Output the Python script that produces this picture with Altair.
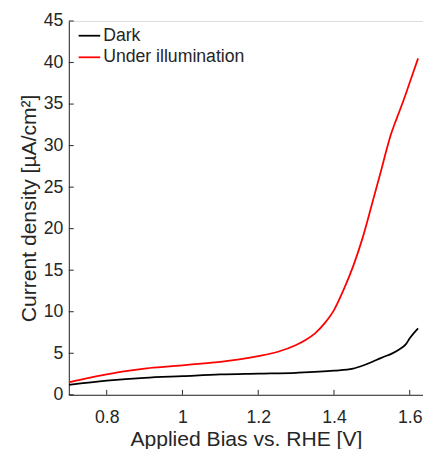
import altair as alt
import pandas as pd

# Dark current
dark_v = [0.70, 0.80, 0.90, 1.00, 1.10, 1.20, 1.30, 1.40, 1.45, 1.475, 1.50, 1.52, 1.53, 1.55, 1.57, 1.59, 1.60, 1.622]
dark_j = [1.2, 1.7, 2.05, 2.25, 2.45, 2.55, 2.65, 2.9, 3.15, 3.5, 3.95, 4.35, 4.55, 4.9, 5.4, 6.1, 6.8, 8.0]

# Under illumination
light_v = [0.70, 0.75, 0.80, 0.85, 0.90, 0.95, 1.00, 1.05, 1.10, 1.15, 1.20, 1.25, 1.30, 1.325, 1.35, 1.375,
           1.40, 1.425, 1.45, 1.475, 1.50, 1.525, 1.54, 1.55, 1.56, 1.57, 1.58, 1.60, 1.622]
light_j = [1.5, 2.0, 2.45, 2.85, 3.15, 3.35, 3.55, 3.75, 3.95, 4.25, 4.65, 5.15, 6.0, 6.6, 7.4, 8.6,
           10.2, 12.6, 15.4, 18.8, 22.9, 27.1, 29.7, 31.3, 32.6, 33.8, 35.0, 37.6, 40.5]

series_names = ["Dark", "Under illumination"]
series_colors = ["#000000", "#ff0000"]

x_ticks = [0.8, 1.0, 1.2, 1.4, 1.6]
y_ticks = [0, 5, 10, 15, 20, 25, 30, 35, 40, 45]

df = pd.concat([
    pd.DataFrame({"v": dark_v, "j": dark_j, "series": series_names[0], "order": range(len(dark_v))}),
    pd.DataFrame({"v": light_v, "j": light_j, "series": series_names[1], "order": range(len(light_v))}),
])

TXT = "#262626"
FONT = "Liberation Sans"
W, H = 361, 381

xscale = alt.Scale(domain=[0.7, 1.635], nice=False, zero=False)
yscale = alt.Scale(domain=[0, 45], nice=False)

lines = alt.Chart(df).mark_line(strokeWidth=1.8, clip=True, interpolate="monotone").encode(
    x=alt.X("v:Q", scale=xscale,
            axis=alt.Axis(title="Applied Bias vs. RHE [V]", values=x_ticks, format="~g",
                          ticks=False, tickSize=0, labelPadding=14, grid=False,
                          domainColor=TXT, labelColor=TXT, titleColor=TXT,
                          labelFontSize=18, titleFontSize=21.5, titlePadding=3,
                          labelFont=FONT, titleFont=FONT, titleFontWeight="normal")),
    y=alt.Y("j:Q", scale=yscale,
            axis=alt.Axis(title="Current density [µA/cm²]", values=y_ticks,
                          ticks=False, tickSize=0, labelPadding=6, grid=False,
                          domainColor=TXT, labelColor=TXT, titleColor=TXT,
                          labelFontSize=18, titleFontSize=21.5, titlePadding=3,
                          labelFont=FONT, titleFont=FONT, titleFontWeight="normal")),
    color=alt.Color("series:N", scale=alt.Scale(domain=series_names, range=series_colors),
                    legend=alt.Legend(title=None, orient="none", legendX=9, legendY=3,
                                      symbolType="stroke", symbolSize=484, symbolStrokeWidth=1.8,
                                      labelFontSize=18, labelColor=TXT, labelFont=FONT,
                                      labelOffset=2, rowPadding=1)),
    order="order:Q",
)

ytick_df = pd.DataFrame({"t": y_ticks})
xtick_df = pd.DataFrame({"t": x_ticks})

yticks = alt.Chart(ytick_df).mark_rule(color=TXT, strokeWidth=1).encode(
    y=alt.Y("t:Q", scale=yscale), x=alt.value(0), x2=alt.value(5))
xticks = alt.Chart(xtick_df).mark_rule(color=TXT, strokeWidth=1).encode(
    x=alt.X("t:Q", scale=xscale), y=alt.value(H), y2=alt.value(H - 5))

chart = alt.layer(lines, yticks, xticks).properties(
    width=W, height=H,
    autosize=alt.AutoSizeParams(type="none"),
    padding={"left": 62, "top": 9, "right": 0, "bottom": 51},
).configure_view(stroke=None).configure(background="white")

chart.save("out.html", embed_options={"renderer": "svg", "actions": False})
